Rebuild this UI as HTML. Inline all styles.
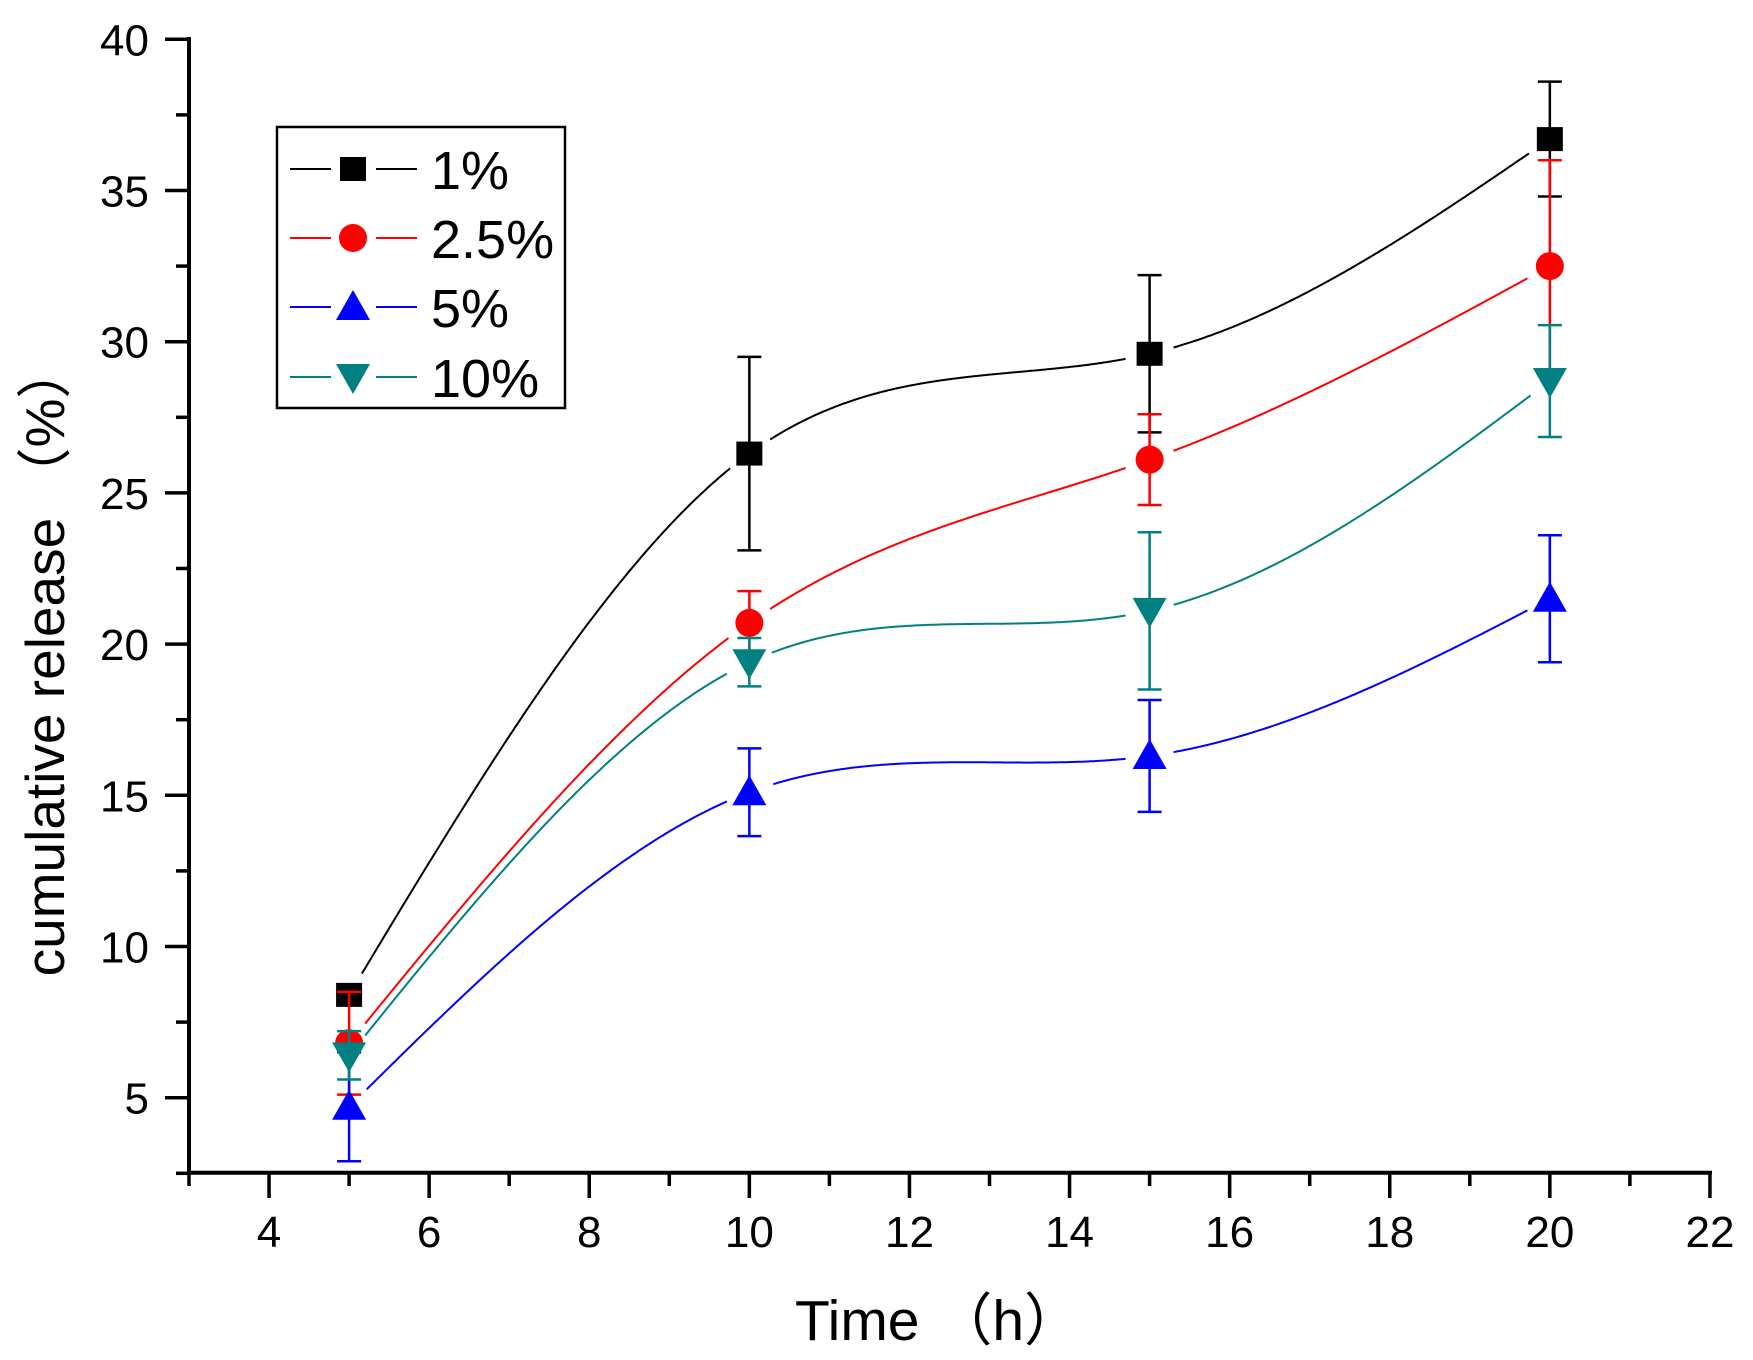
<!DOCTYPE html>
<html><head><meta charset="utf-8"><style>
html,body{margin:0;padding:0;background:#fff;}
svg{display:block;}
text{font-family:"Liberation Sans","Noto Sans CJK SC",sans-serif;}
</style></head><body>
<svg id="chart" xmlns="http://www.w3.org/2000/svg" width="1753" height="1360" viewBox="0 0 1753 1360">
<g id="plot"></g>
<g id="axes"></g>
<text x="938" y="1340" font-size="57" text-anchor="middle">Time （h）</text>
<text transform="translate(64,660) rotate(-90)" font-size="55" text-anchor="middle">cumulative release （%）</text>
<g id="legend"></g>
</svg>
<script>
const categories = [5, 10, 15, 20];
const seriesNames = ["1%", "2.5%", "5%", "10%"];
const s1 = [8.4, 26.3, 29.6, 36.7];
const s2 = [6.8, 20.7, 26.1, 32.5];
const s3 = [4.7, 15.1, 16.3, 21.5];
const s4 = [6.4, 19.4, 21.1, 28.7];
const e1 = [0.3, 3.2, 2.6, 1.9];
const e2 = [1.7, 1.05, 1.5, 3.5];
const e3 = [1.8, 1.45, 1.85, 2.1];
const e4 = [0.8, 0.8, 2.6, 1.85];
const xTicks = [4, 6, 8, 10, 12, 14, 16, 18, 20, 22];
const yTicks = [5, 10, 15, 20, 25, 30, 35, 40];

const NS = "http://www.w3.org/2000/svg";
const X = v => 189 + (v - 3) * 80.05;
const Y = v => 39.3 + (40 - v) * 30.24;
function mk(tag, attrs, parent){const e=document.createElementNS(NS,tag);for(const k in attrs)e.setAttribute(k,attrs[k]);parent.appendChild(e);return e;}
const plot=document.getElementById('plot'), axes=document.getElementById('axes'), legend=document.getElementById('legend');

let a=mk('line',{x1:189,y1:37,x2:189,y2:1174,stroke:'#000','stroke-width':4},axes);


a=mk('line',{x1:187,y1:1172.7,x2:1712,y2:1172.7,stroke:'#000','stroke-width':4},axes);


for(let v=2.5;v<=40.01;v+=2.5){
  const major = yTicks.includes(v);
  const t=mk('line',{x1:major?165:176,y1:Y(v),x2:189,y2:Y(v),stroke:'#000','stroke-width':3.5},axes);
  
  
}
yTicks.forEach(v=>{
  const t=mk('text',{x:149,y:Y(v)+16,'font-size':44,'text-anchor':'end'},axes);
  t.textContent=v;
  
  
});
for(let v=3;v<=22;v+=1){
  const major = xTicks.includes(v);
  const t=mk('line',{x1:X(v),y1:1172,x2:X(v),y2:major?1198:1186,stroke:'#000','stroke-width':3.5},axes);
  
  
}
xTicks.forEach(v=>{
  const t=mk('text',{x:X(v),y:1247,'font-size':44,'text-anchor':'middle'},axes);
  t.textContent=v;
  
  
});

function spline(xs, ys){
  const n=xs.length, h=[], al=[], l=[1], mu=[0], z=[0], c=new Array(n).fill(0), b=[], d=[];
  for(let i=0;i<n-1;i++)h[i]=xs[i+1]-xs[i];
  for(let i=1;i<n-1;i++)al[i]=3/h[i]*(ys[i+1]-ys[i])-3/h[i-1]*(ys[i]-ys[i-1]);
  for(let i=1;i<n-1;i++){l[i]=2*(xs[i+1]-xs[i-1])-h[i-1]*mu[i-1];mu[i]=h[i]/l[i];z[i]=(al[i]-h[i-1]*z[i-1])/l[i];}
  for(let j=n-2;j>=0;j--){c[j]=(j<n-2?z[j]-mu[j]*c[j+1]:z[j]);b[j]=(ys[j+1]-ys[j])/h[j]-h[j]*(c[j+1]+2*c[j])/3;d[j]=(c[j+1]-c[j])/(3*h[j]);}
  return x=>{let i=Math.min(n-2,Math.max(0,xs.findIndex((v,k)=>k<n-1&&x<=xs[k+1])));if(i<0)i=n-2;const dx=x-xs[i];return ys[i]+b[i]*dx+c[i]*dx*dx+d[i]*dx*dx*dx;};
}

const colors=['#000000','#ff0000','#0000ff','#008080'];
const allS=[s1,s2,s3,s4], allE=[e1,e2,e3,e4], shapes=['square','circle','up','down'];

function marker(shape,cx,cy,col,parent,scale){
  const s=scale||1; let m;
  if(shape==='square') m=mk('rect',{x:cx-13*s,y:cy-12*s,width:26*s,height:24*s,fill:col},parent);
  else if(shape==='circle') m=mk('circle',{cx:cx,cy:cy,r:14*s,fill:col},parent);
  else if(shape==='up') m=mk('polygon',{points:`${cx},${cy-17*s} ${cx+17*s},${cy+13*s} ${cx-17*s},${cy+13*s}`,fill:col},parent);
  else m=mk('polygon',{points:`${cx},${cy+17*s} ${cx+17*s},${cy-13*s} ${cx-17*s},${cy-13*s}`,fill:col},parent);
  return m;
}

allS.forEach((ys,si)=>{
  const col=colors[si];
  const g=mk('g',{},plot);
  
  
  const f=spline(categories,ys);
  let d='', pen=false;
  for(let x=categories[0];x<=categories[categories.length-1]+1e-9;x+=0.02){
    const px=X(x), py=Y(f(x));
    const near=categories.some((c,k)=>Math.hypot(px-X(c),py-Y(ys[k]))<24);
    if(near){pen=false;continue;}
    d+=(pen?'L':'M')+px.toFixed(1)+' '+py.toFixed(1);pen=true;
  }
  const p=mk('path',{d:d,fill:'none',stroke:col,'stroke-width':2},g);
  
  
  categories.forEach((c,k)=>{
    const cx=X(c), top=Y(ys[k]+allE[si][k]), bot=Y(ys[k]-allE[si][k]);
    const eb=mk('path',{d:`M${cx} ${top}L${cx} ${bot}M${cx-12} ${top}L${cx+12} ${top}M${cx-12} ${bot}L${cx+12} ${bot}`,stroke:col,'stroke-width':2.5,fill:'none'},g);
    
    
    const m=marker(shapes[si],cx,Y(ys[k]),col,g);
    
    
  });
});

const box=mk('rect',{x:277,y:127,width:288,height:281,fill:'#fff',stroke:'#000','stroke-width':2.5},legend);


const ly=[169,238,307,377];
seriesNames.forEach((nm,i)=>{
  const g=mk('g',{},legend);
  
  
  mk('line',{x1:290,y1:ly[i],x2:331,y2:ly[i],stroke:colors[i],'stroke-width':2},g);
  mk('line',{x1:376,y1:ly[i],x2:417,y2:ly[i],stroke:colors[i],'stroke-width':2},g);
  marker(shapes[i],353,ly[i],colors[i],g);
  const t=mk('text',{x:431,y:ly[i]+20,'font-size':54},g);
  t.textContent=nm;
});
</script>
</body></html>
